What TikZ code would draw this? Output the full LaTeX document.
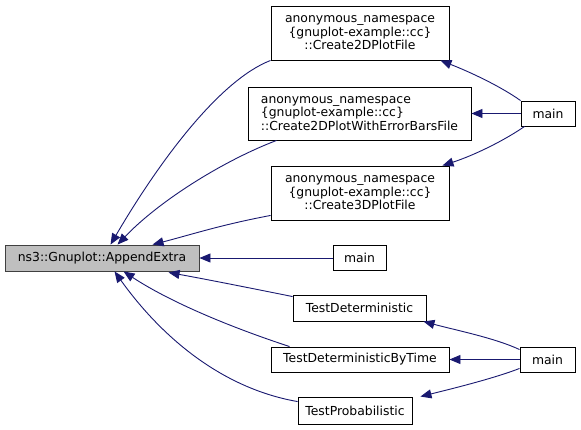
\documentclass[tikz,border=0pt]{standalone}
\usepackage{fontspec}
\setmainfont{DejaVu Sans}
\usetikzlibrary{arrows.meta}
\definecolor{edgeblue}{HTML}{191970}
\definecolor{nodegray}{HTML}{BFBFBF}
\begin{document}
\begin{tikzpicture}[x=1pt,y=-1pt,
  box/.style={draw=black, fill=white, line width=0.9pt, inner sep=0pt, align=center,
    font=\fontsize{12.4pt}{13.6pt}\selectfont},
  cur/.style={draw=edgeblue, line width=0.9pt, -{Triangle[length=11pt,width=9pt]}},
  cur2/.style={draw=edgeblue, line width=0.9pt, {Triangle[length=11pt,width=9pt]}-}]
\useasboundingbox (0,0) rectangle (581,429);
% nodes
\node[box, fill=nodegray, draw=black!75, minimum width=194pt, minimum height=26pt] (ae) at (102,258) {ns3::Gnuplot::AppendExtra};
\node[box, minimum width=178pt, minimum height=54pt] (c2d) at (360,33) {anonymous\_namespace\\\{gnuplot-example::cc\}\\::Create2DPlotFile};
\node[box, align=left, minimum width=223pt, minimum height=53pt] (ceb) at (359.5,113.5) {anonymous\_namespace\\\{gnuplot-example::cc\}\\::Create2DPlotWithErrorBarsFile};
\node[box, minimum width=178pt, minimum height=54pt] (c3d) at (360,193) {anonymous\_namespace\\\{gnuplot-example::cc\}\\::Create3DPlotFile};
\node[box, minimum width=53pt, minimum height=25pt] (m2) at (359.5,258) {main};
\node[box, minimum width=133pt, minimum height=26pt] (td) at (359.5,308) {TestDeterministic};
\node[box, minimum width=178pt, minimum height=25pt] (tdt) at (360,359.5) {TestDeterministicByTime};
\node[box, minimum width=114pt, minimum height=27pt] (tp) at (355,410.5) {TestProbabilistic};
\node[box, minimum width=54pt, minimum height=25pt] (m1) at (548,113.5) {main};
\node[box, minimum width=55pt, minimum height=25pt] (m3) at (547.5,359.5) {main};
% edges into AppendExtra
\draw[cur] (c2d.south west) .. controls (220,80) and (160,160) .. ([xshift=106pt]ae.north west);
\draw[cur] ([xshift=29pt]ceb.south west) .. controls (225,160) and (160,200) .. ([xshift=113pt]ae.north west);
\draw[cur] ([yshift=5pt]c3d.south west) .. controls (220,225) and (190,235) .. ([xshift=148pt]ae.north west);
\draw[cur] (m2.west) -- (ae.east);
\draw[cur] ([yshift=-2pt]td.north west) .. controls (250,288) and (210,280) .. ([xshift=164pt,yshift=-1pt]ae.south west);
\draw[cur] ([xshift=19pt]tdt.north west) .. controls (230,327) and (170,302) .. ([xshift=119pt]ae.south west);
\draw[cur] ([yshift=-5pt]tp.north west) .. controls (220,388) and (160,335) .. ([xshift=110pt]ae.south west);
% edges from main (top)
\draw[cur2] ([xshift=-9pt]c2d.south east) .. controls (470,72) and (500,86) .. (m1.north west);
\draw[cur2] (ceb.east) -- (m1.west);
\draw[cur2] ([xshift=-7pt]c3d.north east) .. controls (475,155) and (505,140) .. ([xshift=4pt]m1.south west);
% edges from main (bottom)
\draw[cur2] ([xshift=-3pt]td.south east) .. controls (455,330) and (495,338) .. ([yshift=-3pt]m3.north west);
\draw[cur2] (tdt.east) -- (m3.west);
\draw[cur2] ([xshift=8pt]tp.north east) .. controls (455,388) and (495,378) .. ([yshift=4pt]m3.south west);
\end{tikzpicture}
\end{document}
